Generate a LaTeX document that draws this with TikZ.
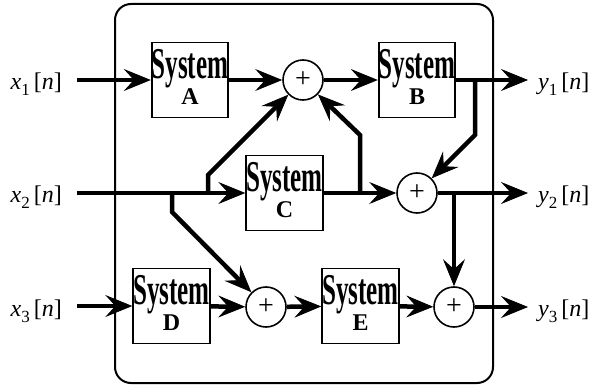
\documentclass[tikz,border=0pt]{standalone}
\usepackage{fontspec}
\setmainfont{LiberationSerif}[Extension=.ttf,UprightFont=*-Regular,BoldFont=*-Bold,
  ItalicFont=*-Italic,BoldItalicFont=*-BoldItalic]
\usetikzlibrary{arrows.meta,positioning}

\newcommand{\sysname}[1]{\scalebox{0.57}[1]{\fontsize{44}{44}\selectfont\bfseries System}\\{\bfseries #1}}
\newcommand{\sig}[2]{\textit{#1}\raisebox{-0.25em}{\fontsize{17}{17}\selectfont #2}\,[\textit{n}]}

\begin{document}
\begin{tikzpicture}[
  x=1pt, y=-1pt,
  sysbox/.style={draw,line width=1.8pt,minimum width=76pt,minimum height=75pt,
    inner sep=0pt,align=center,text depth=7pt,font=\fontsize{24}{26}\selectfont},
  adder/.style={draw,circle,line width=1.6pt,minimum size=40pt,inner sep=0pt,
    font=\fontsize{28}{28}\selectfont},
  inlabel/.style={anchor=east,inner xsep=15pt,inner ysep=0pt,font=\fontsize{24}{24}\selectfont},
  outlabel/.style={anchor=west,inner xsep=10pt,inner ysep=0pt,font=\fontsize{24}{24}\selectfont},
  wire/.style={line width=4.5pt},
  sigline/.style={wire,-{Stealth[length=27pt,width=22pt,inset=10pt,line width=0.8pt]}}
]
  \useasboundingbox (0,0) rectangle (594,385);
  \draw[line width=2pt,rounded corners=16pt] (115,4) rectangle (493,383);

  \node[sysbox] (A) at (190,80) {\sysname{A}};
  \node[sysbox] (B) at (417,80) {\sysname{B}};
  \node[sysbox] (C) at (284.5,193) {\sysname{C}};
  \node[sysbox] (D) at (171.5,306) {\sysname{D}};
  \node[sysbox] (E) at (360.5,306) {\sysname{E}};

  \node[adder] (c1) at (303,80) {+};
  \node[adder] (c2) at (417,193) {+};
  \node[adder] (c3) at (266,307) {+};
  \node[adder] (c4) at (454,307) {+};

  \node[inlabel] (x1) at (77,84) {\sig{x}{1}};
  \node[inlabel] (x2) at (77,197) {\sig{x}{2}};
  \node[inlabel] (x3) at (77,311) {\sig{x}{3}};
  \node[outlabel] (y1) at (528,84) {\sig{y}{1}};
  \node[outlabel] (y2) at (528,197) {\sig{y}{2}};
  \node[outlabel] (y3) at (528,311) {\sig{y}{3}};

  \coordinate (j1) at (208,193);
  \coordinate (k1) at (208,175);
  \coordinate (j2) at (172,193);
  \coordinate (k2) at (172,212);
  \coordinate (j3) at (360,193);
  \coordinate (k3) at (360,135);
  \coordinate (j4) at (475,80);
  \coordinate (k4) at (475,135);
  \coordinate (j5) at (c4 |- c2);

  \draw[sigline] (x1.east |- A.west) -- (A.west);
  \draw[sigline] (x2.east |- C.west) -- (C.west);
  \draw[sigline] (x3.east |- D.west) -- (D.west);
  \draw[sigline] (A) -- (c1);
  \draw[sigline] (c1) -- (B);
  \draw[sigline] (C) -- (c2);
  \draw[sigline] (D) -- (c3);
  \draw[sigline] (c3) -- (E);
  \draw[sigline] (E) -- (c4);
  \draw[sigline] (B.east) -- (y1.west |- B.east);
  \draw[sigline] (c2.east) -- (y2.west |- c2.east);
  \draw[sigline] (c4.east) -- (y3.west |- c4.east);

  \draw[sigline] (j1) -- (k1) -- (c1);
  \draw[sigline] (j2) -- (k2) -- (c3);
  \draw[sigline] (j3) -- (k3) -- (c1);
  \draw[sigline] (j4) -- (k4) -- (c2);
  \draw[sigline] (j5) -- (c4);
\end{tikzpicture}
\end{document}
